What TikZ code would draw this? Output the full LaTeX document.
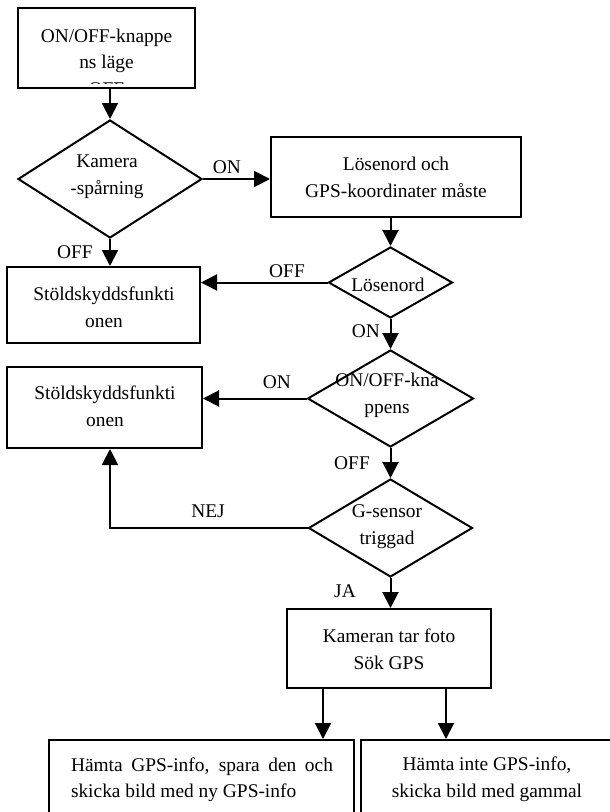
\documentclass[tikz,border=0pt]{standalone}
\usepackage{fontspec}
\setmainfont{Liberation Serif}
\usetikzlibrary{shapes.geometric,arrows.meta}
\begin{document}
\begin{tikzpicture}[x=1pt,y=-1pt,
  line width=2pt,
  box/.style={draw,rectangle,inner sep=0pt},
  dia/.style={draw,diamond,inner sep=0pt,line join=miter},
  txt/.style={inner sep=0pt,align=center,font=\fontsize{19.4}{27}\selectfont},
  lbl/.style={inner sep=0pt,font=\fontsize{19.4}{27}\selectfont},
  arr/.style={-{Triangle[width=16pt,length=16pt]}},
  ]
\useasboundingbox (0,0) rectangle (610,812);
\clip (0,0) rectangle (610,812);

% shapes
\node[box,minimum width=177pt,minimum height=80pt] (box1) at (106.5,48) {};
\node[dia,minimum width=184pt,minimum height=118pt] (d1) at (110,179) {};
\node[box,minimum width=250pt,minimum height=80pt] (box2) at (396,177) {};
\node[dia,minimum width=124pt,minimum height=71pt] (d2) at (390.5,282.5) {};
\node[box,minimum width=193pt,minimum height=76pt] (box3) at (103.5,305) {};
\node[dia,minimum width=166pt,minimum height=97pt] (d3) at (390.5,398.5) {};
\node[box,minimum width=195pt,minimum height=81pt] (box4) at (104.5,407.5) {};
\node[dia,minimum width=164pt,minimum height=98pt] (d4) at (390.5,528) {};
\node[box,minimum width=204pt,minimum height=79pt] (box5) at (389,648.5) {};
\node[box,minimum width=305pt,minimum height=100pt] (box6) at (201.5,790) {};
\node[box,minimum width=259pt,minimum height=100pt] (box7) at (490.5,790) {};

% texts
\node[lbl,anchor=base] (t1a) at (106.5,42) {ON/OFF-knappe};
\node[lbl,anchor=base] (t1b) at (106.5,68) {ns läge};
\begin{scope}
\clip (19,9) rectangle (194,83.5);
\node[lbl,anchor=base] (t1c) at (106.5,95) {OFF};
\end{scope}
\node[txt] (t2) at (396,177) {Lösenord och\\GPS-koordinater måste};
\node[txt] (t3) at (104,307) {Stöldskyddsfunkti\\onen};
\node[txt] (t4) at (105,406) {Stöldskyddsfunkti\\onen};
\node[txt] (t5) at (389,649.5) {Kameran tar foto\\Sök GPS};
\node[txt] (td1) at (107,177) {Kamera\\-spårning};
\node[lbl] (td2) at (388,285) {Lösenord};
\node[txt] (td3) at (387,395) {ON/OFF-kna\\ppens};
\node[txt] (td4) at (387,527) {G-sensor\\triggad};
\node[lbl,anchor=base west] (t6a) at (70,771) {\makebox[262pt][s]{Hämta GPS-info, spara den och}};
\node[lbl,anchor=base west] (t6b) at (70,797) {skicka bild med ny GPS-info};
\node[txt] (t7) at (487,779) {Hämta inte GPS-info,\\skicka bild med gammal};

% labels
\node[lbl] (l1) at (227,167) {ON};
\node[lbl] (l2) at (75,252) {OFF};
\node[lbl] (l3) at (287,271) {OFF};
\node[lbl] (l4) at (366,331) {ON};
\node[lbl] (l5) at (277,382) {ON};
\node[lbl] (l6) at (352,463) {OFF};
\node[lbl] (l7) at (208,511) {NEJ};
\node[lbl] (l8) at (345,591) {JA};

% connectors
\coordinate (c1) at (110,88);
\coordinate (nej) at (110,528);
\coordinate (s5a) at (323,688);
\coordinate (s5b) at (446,688);
\draw[arr] (c1) -- (d1.north);
\draw[arr] (d1.east) -- (d1.east -| box2.west);
\draw[arr] (d2.north |- box2.south) -- (d2.north);
\draw[arr] (d2.west) -- (d2.west -| box3.east);
\draw[arr] (d1.south) -- (d1.south |- box3.north);
\draw[arr] (d2.south) -- (d3.north);
\draw[arr] (d3.west) -- (d3.west -| box4.east);
\draw[arr] (d3.south) -- (d4.north);
\draw[arr] (d4.west) -- (nej) -- (nej |- box4.south);
\draw[arr] (d4.south) -- (d4.south |- box5.north);
\draw[arr] (s5a) -- (s5a |- box6.north);
\draw[arr] (s5b) -- (s5b |- box7.north);
\end{tikzpicture}
\end{document}
